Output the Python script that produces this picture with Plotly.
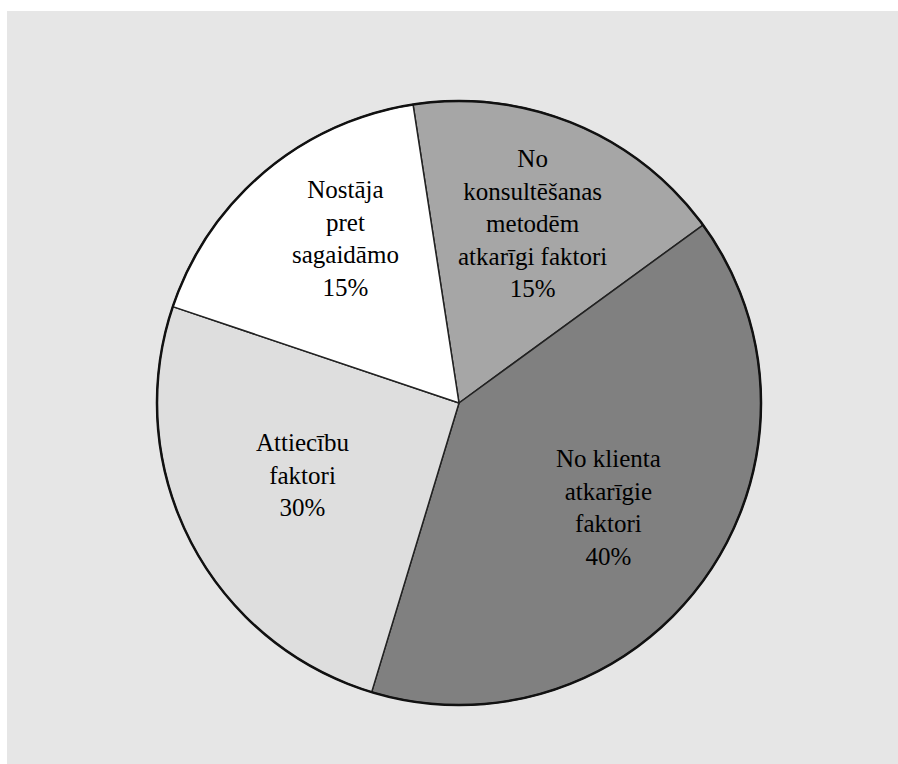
import math
import plotly.graph_objects as go

labels = ["No<br>konsultēšanas<br>metodēm<br>atkarīgi faktori",
          "No klienta<br>atkarīgie<br>faktori",
          "Attiecību<br>faktori",
          "Nostāja<br>pret<br>sagaidāmo"]
shares = [17.4, 39.7, 25.5, 17.4]          # slice sizes as drawn
printed = ["15%", "40%", "30%", "15%"]     # percentages as printed
colors = ["#a6a6a6", "#808080", "#dedede", "#ffffff"]

# label placement (angle clockwise from 12 o'clock, fraction of radius)
label_angle = [22.3, 125, 245.2, 325.5]
label_rfrac = [0.644, 0.606, 0.569, 0.661]

SERIF = "Liberation Serif, Times New Roman, serif"
ROT = -8.75

fig = go.Figure(go.Pie(
    values=shares, labels=labels, textinfo="none", sort=False,
    direction="clockwise", rotation=ROT,
    marker=dict(colors=colors, line=dict(color="#222222", width=1.5)),
    hoverinfo="skip", showlegend=False,
))

for lab, p, a, f in zip(labels, printed, label_angle, label_rfrac):
    th = math.radians(a)
    fig.add_annotation(
        xref="paper", yref="paper",
        x=0.5 + 0.5 * f * math.sin(th), y=0.5 + 0.5 * f * math.cos(th),
        text=f"{lab}<br>{p}", showarrow=False,
        xanchor="center", yanchor="middle", align="center",
        font=dict(family=SERIF, size=25, color="black"),
    )

fig.add_shape(type="rect", xref="paper", yref="paper",
              x0=(7-157)/604, x1=(898-157)/604, y0=-59/604, y1=(764-11-59)/604,
              fillcolor="#e6e6e6", line=dict(width=0), layer="below")
fig.add_shape(type="circle", xref="paper", yref="paper",
              x0=0, x1=1, y0=0, y1=1,
              line=dict(color="#111111", width=2.5), layer="above")

fig.update_layout(
    width=898, height=764,
    margin=dict(l=157, r=137, t=101, b=59),
    paper_bgcolor="white", plot_bgcolor="white",
    font=dict(family=SERIF, size=25, color="black"),
)
fig.write_html("out.html")
